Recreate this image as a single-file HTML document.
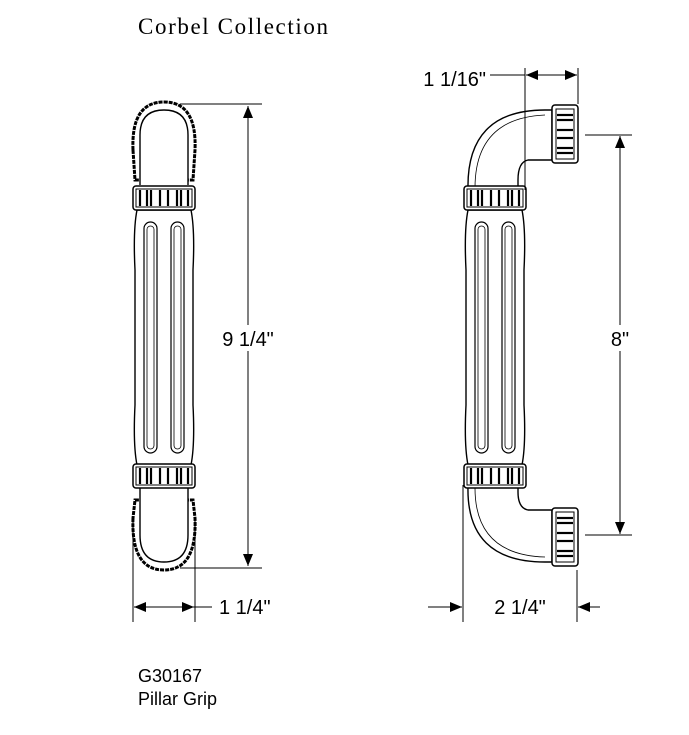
<!DOCTYPE html>
<html><head><meta charset="utf-8"><style>
html,body{margin:0;padding:0;background:#fff;width:689px;height:735px;overflow:hidden}
svg{display:block}
</style></head><body>
<svg width="689" height="735" viewBox="0 0 689 735" xmlns="http://www.w3.org/2000/svg">
<defs>
<marker id="ah" markerWidth="12" markerHeight="10" refX="12" refY="5" orient="auto" markerUnits="userSpaceOnUse"><path d="M0,0 L12,5 L0,10 Z" fill="#000"/></marker>
<g id="collar">
<rect x="-31" y="0" width="62" height="24" rx="3" fill="#fff" stroke="#000" stroke-width="1.5"/>
<rect x="-28" y="3" width="56" height="18" fill="none" stroke="#000" stroke-width="1"/>
<g stroke="#000" stroke-width="2.2">
<line x1="-24" y1="4" x2="-24" y2="20"/><line x1="-17" y1="4" x2="-17" y2="20"/><line x1="-13" y1="4" x2="-13" y2="20"/>
<line x1="-4" y1="4" x2="-4" y2="20"/><line x1="4" y1="4" x2="4" y2="20"/>
<line x1="13" y1="4" x2="13" y2="20"/><line x1="17" y1="4" x2="17" y2="20"/><line x1="24" y1="4" x2="24" y2="20"/>
</g>
</g>
<g id="body">
<path d="M-27,0 Q-31,20 -29,60 L-29,195 Q-31,235 -27,255 L27,255 Q31,235 29,195 L29,60 Q31,20 27,0 Z" fill="#fff" stroke="#000" stroke-width="1.4"/>
<rect x="-20" y="12" width="13" height="231" rx="6.5" fill="none" stroke="#000" stroke-width="1.2"/>
<rect x="-17" y="16" width="7" height="223" rx="3.5" fill="none" stroke="#000" stroke-width="0.8"/>
<rect x="7" y="12" width="13" height="231" rx="6.5" fill="none" stroke="#000" stroke-width="1.2"/>
<rect x="10" y="16" width="7" height="223" rx="3.5" fill="none" stroke="#000" stroke-width="0.8"/>
</g>
<g id="endcap">
<rect x="0" y="0" width="26" height="58" rx="3" fill="#fff" stroke="#000" stroke-width="1.5"/>
<rect x="4" y="4" width="18" height="50" fill="none" stroke="#000" stroke-width="1"/>
<g stroke="#000" stroke-width="2.2">
<line x1="5" y1="10" x2="21" y2="10"/><line x1="5" y1="15" x2="21" y2="15"/><line x1="5" y1="25" x2="21" y2="25"/><line x1="5" y1="33" x2="21" y2="33"/><line x1="5" y1="43" x2="21" y2="43"/><line x1="5" y1="48" x2="21" y2="48"/>
</g>
</g>
</defs>

<text x="138" y="34" font-family="Liberation Serif, serif" font-size="23" textLength="190" lengthAdjust="spacing">Corbel Collection</text>

<!-- LEFT HANDLE -->
<path d="M133,150 Q131,102 164,102 Q197,102 195,150 L193,180 L135,180 Z" fill="#fff" stroke="#000" stroke-width="3" stroke-dasharray="4 1"/>
<path d="M140,185 L140,135 Q140,110 164,110 Q188,110 188,135 L188,185" fill="#fff" stroke="#000" stroke-width="1.4"/>
<use href="#body" x="164" y="210"/>
<use href="#collar" x="164" y="186"/>
<path d="M133,518 Q131,570 164,570 Q197,570 195,518 L193,500 L135,500 Z" fill="#fff" stroke="#000" stroke-width="3" stroke-dasharray="4 1"/>
<path d="M140,488 L140,535 Q140,562 164,562 Q188,562 188,535 L188,488" fill="#fff" stroke="#000" stroke-width="1.4"/>
<use href="#collar" x="164" y="464"/>

<!-- left dims -->
<g stroke="#000" stroke-width="1">
<line x1="180" y1="104" x2="262" y2="104"/>
<line x1="180" y1="568" x2="262" y2="568"/>
<line x1="248" y1="118" x2="248" y2="106" marker-end="url(#ah)"/>
<line x1="248" y1="118" x2="248" y2="555"/>
<line x1="248" y1="550" x2="248" y2="566" marker-end="url(#ah)"/>
<line x1="133" y1="520" x2="133" y2="622"/>
<line x1="195" y1="520" x2="195" y2="622"/>
<line x1="150" y1="607" x2="134" y2="607" marker-end="url(#ah)"/>
<line x1="150" y1="607" x2="194" y2="607" marker-end="url(#ah)"/>
<line x1="194" y1="607" x2="212" y2="607"/>
</g>
<rect x="216" y="325" width="64" height="26" fill="#fff"/>
<text x="248" y="346" font-family="Liberation Sans, sans-serif" font-size="20" text-anchor="middle">9 1/4"</text>
<text x="219" y="614" font-family="Liberation Sans, sans-serif" font-size="20">1 1/4"</text>

<!-- RIGHT HANDLE -->
<path d="M468,190 Q466,110 545,110 L552,110 L552,160 L528,160 Q518,162 518,180 L518,190 Z" fill="#fff" stroke="#000" stroke-width="1.4"/>
<path d="M475,188 Q475,118 545,115" fill="none" stroke="#000" stroke-width="0.8"/>
<use href="#endcap" x="552" y="105"/>
<use href="#body" x="495" y="210"/>
<use href="#collar" x="495" y="186"/>
<path d="M468,486 Q466,562 545,562 L552,562 L552,510 L528,510 Q518,508 518,492 L518,486 Z" fill="#fff" stroke="#000" stroke-width="1.4"/>
<path d="M475,488 Q475,555 545,557" fill="none" stroke="#000" stroke-width="0.8"/>
<use href="#endcap" x="552" y="508"/>
<use href="#collar" x="495" y="464"/>

<!-- right dims -->
<g stroke="#000" stroke-width="1">
<line x1="525" y1="68" x2="525" y2="190"/>
<line x1="578" y1="68" x2="578" y2="104"/>
<line x1="490" y1="75" x2="525" y2="75"/>
<line x1="550" y1="75" x2="526" y2="75" marker-end="url(#ah)"/>
<line x1="550" y1="75" x2="577" y2="75" marker-end="url(#ah)"/>
<line x1="585" y1="135" x2="632" y2="135"/>
<line x1="585" y1="535" x2="632" y2="535"/>
<line x1="620" y1="150" x2="620" y2="136" marker-end="url(#ah)"/>
<line x1="620" y1="150" x2="620" y2="522"/>
<line x1="620" y1="520" x2="620" y2="534" marker-end="url(#ah)"/>
<line x1="463" y1="485" x2="463" y2="622"/>
<line x1="577" y1="570" x2="577" y2="622"/>
<line x1="428" y1="607" x2="462" y2="607" marker-end="url(#ah)"/>
<line x1="600" y1="607" x2="578" y2="607" marker-end="url(#ah)"/>
</g>
<text x="486" y="86" font-family="Liberation Sans, sans-serif" font-size="20" text-anchor="end">1 1/16"</text>
<rect x="604" y="325" width="32" height="26" fill="#fff"/>
<text x="620" y="346" font-family="Liberation Sans, sans-serif" font-size="20" text-anchor="middle">8"</text>
<text x="520" y="614" font-family="Liberation Sans, sans-serif" font-size="20" text-anchor="middle">2 1/4"</text>

<text x="138" y="682" font-family="Liberation Sans, sans-serif" font-size="18">G30167</text>
<text x="138" y="705" font-family="Liberation Sans, sans-serif" font-size="18">Pillar Grip</text>
</svg>
</body></html>
